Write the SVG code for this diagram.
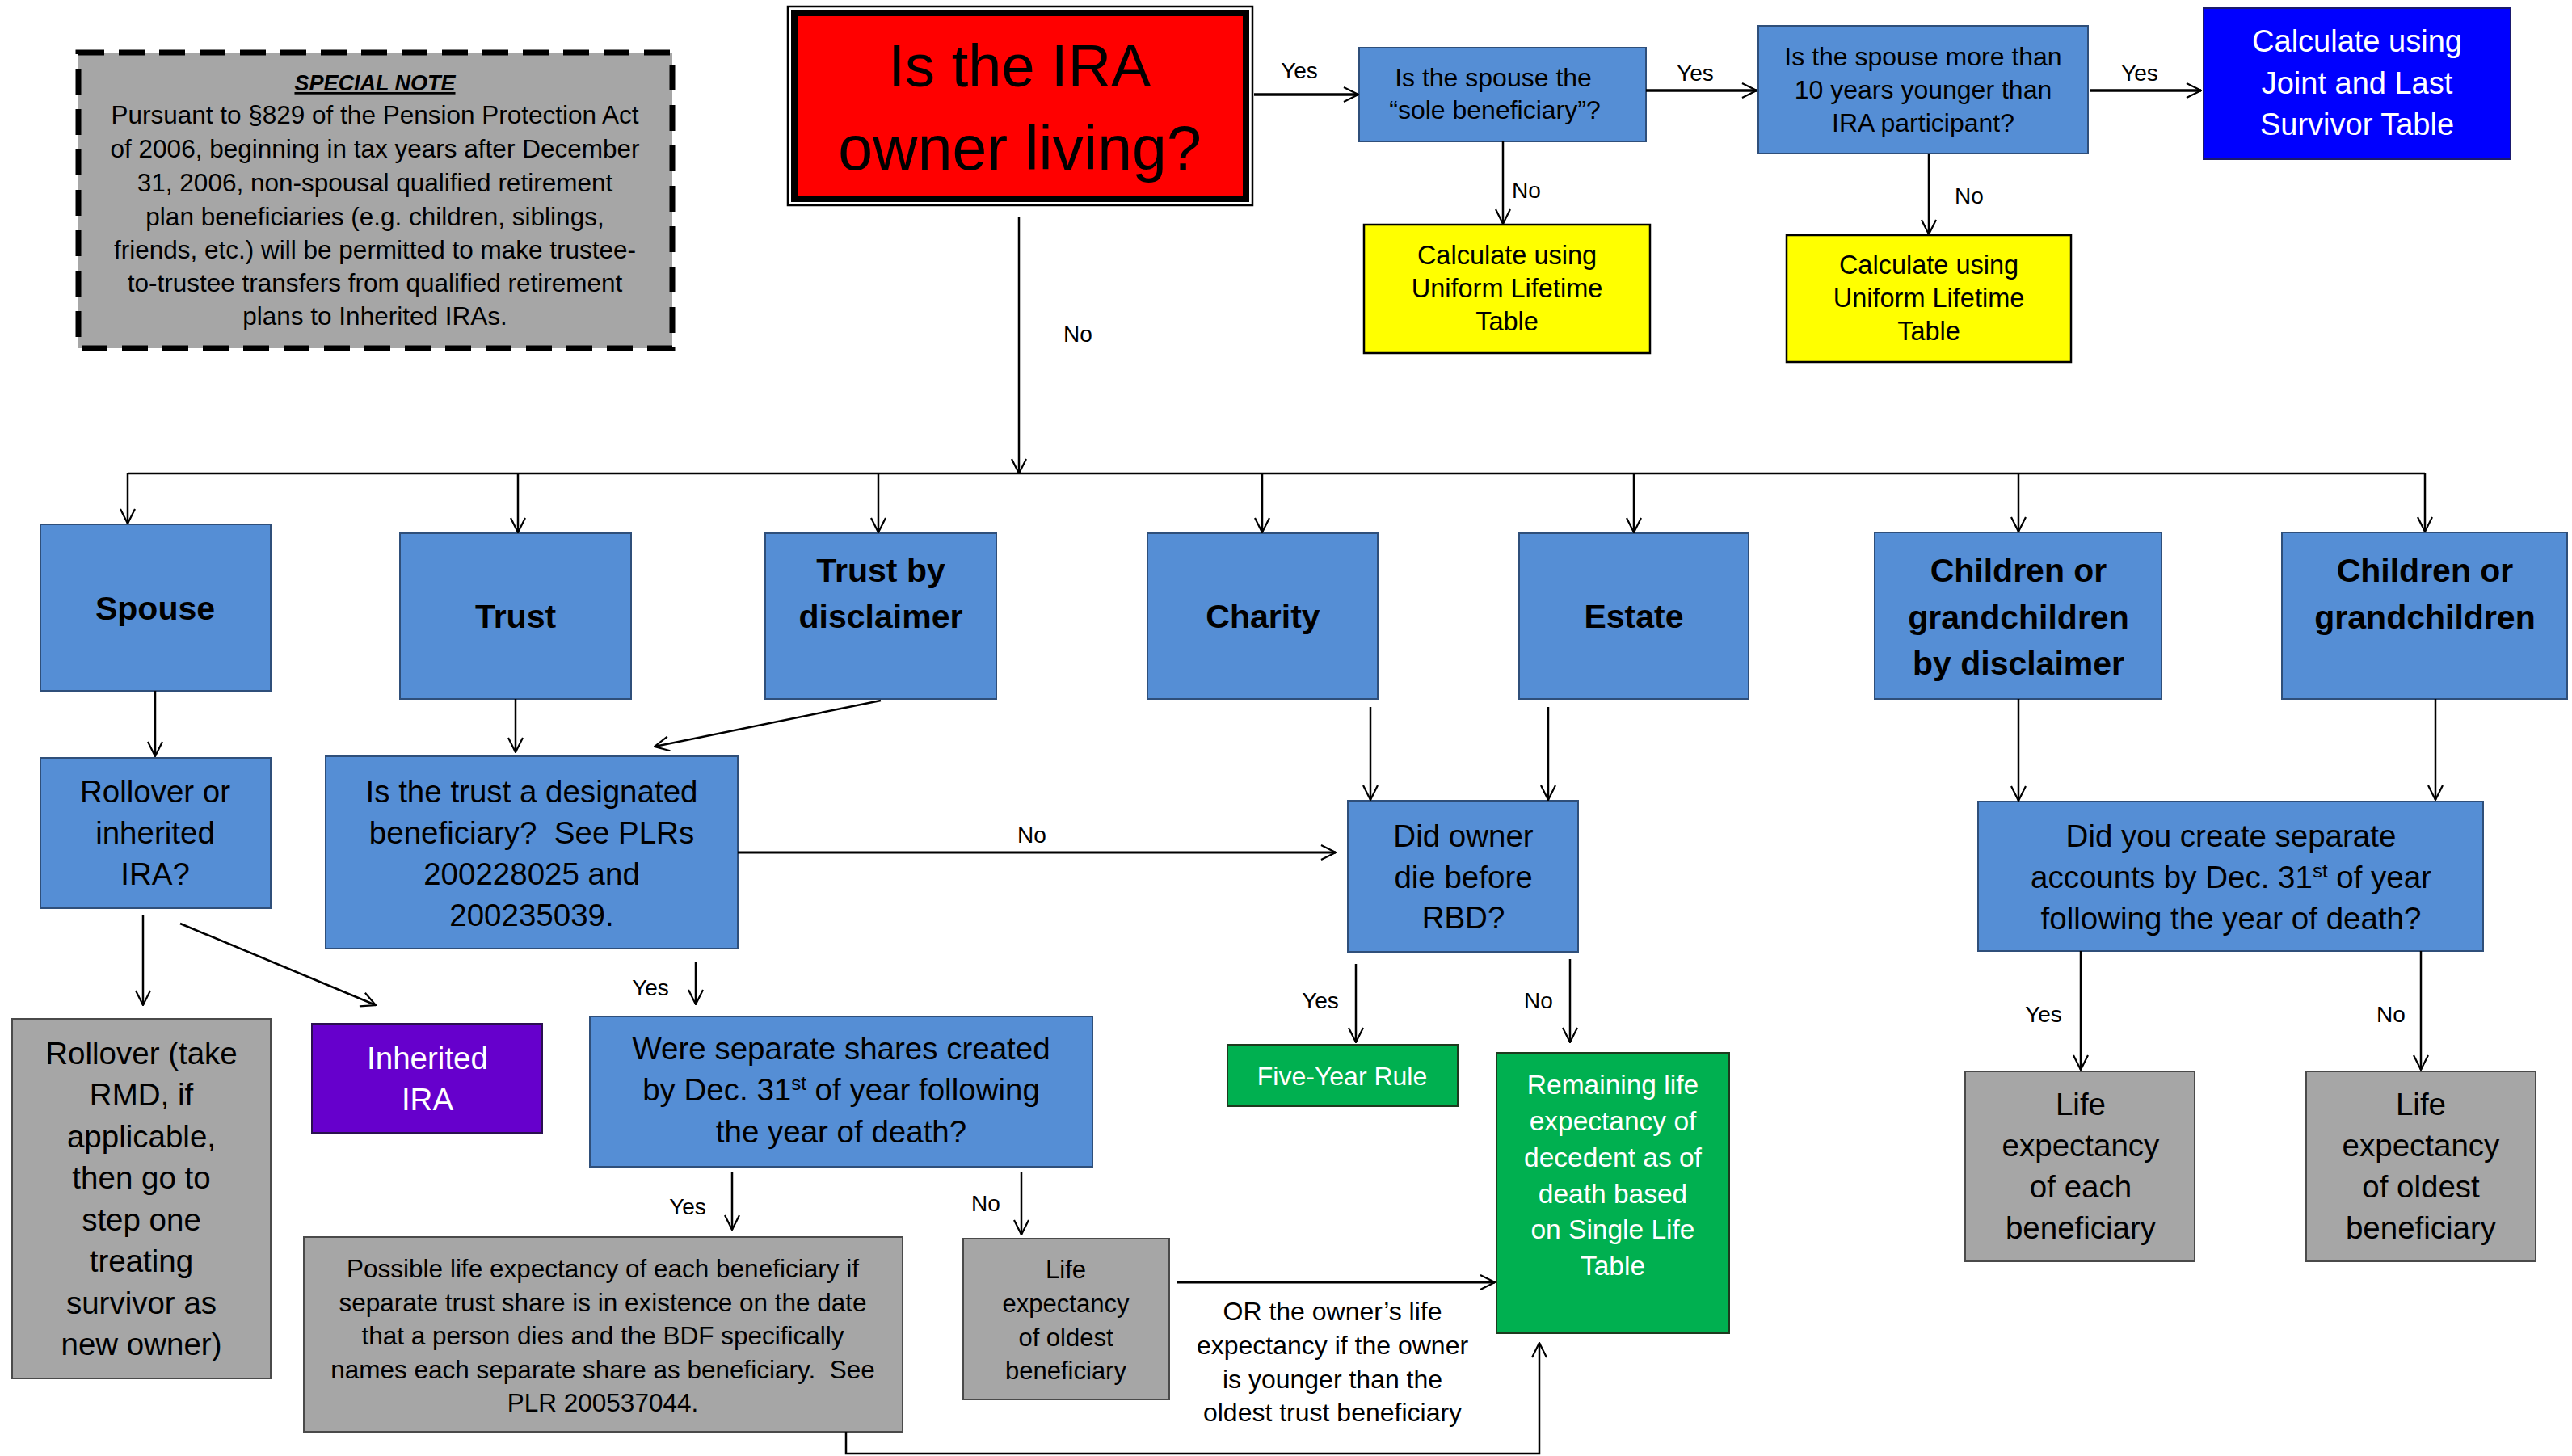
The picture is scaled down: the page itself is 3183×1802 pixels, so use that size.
<svg xmlns="http://www.w3.org/2000/svg" width="3183" height="1802" viewBox="0 0 3183 1802">
<defs>
<marker id="arr" viewBox="0 0 20 20" refX="19" refY="10" markerWidth="20" markerHeight="20" markerUnits="userSpaceOnUse" orient="auto">
<path d="M1,1 L19,10 L1,19" fill="none" stroke="#000" stroke-width="2.2"/>
</marker>
<style>
text{font-family:"Liberation Sans",Arial,sans-serif;text-anchor:middle;fill:#000}
.blue{fill:#558ED5;stroke:#2F4F7A;stroke-width:2}
.gray{fill:#A6A6A6;stroke:#4A4A4A;stroke-width:2}
.yel{fill:#FFFF00;stroke:#000;stroke-width:2.5}
.grn{fill:#00B050;stroke:#1E3A1E;stroke-width:2}
.c{fill:none;stroke:#000;stroke-width:2.5}
.ca{fill:none;stroke:#000;stroke-width:2.5;marker-end:url(#arr)}
.s30{font-size:32px}
.s37{font-size:38.5px}
.b{font-size:41px;font-weight:bold}
.lab{font-size:28px}
.w{fill:#fff}
.pre{white-space:pre}
</style>
</defs>
<rect width="3183" height="1802" fill="#fff"/>

<g id="special-note">
<rect x="97" y="65" width="735" height="366" fill="#A6A6A6" stroke="#000" stroke-width="7" stroke-dasharray="32 18"/>
<text x="464" y="112" font-size="27" font-weight="bold" font-style="italic" text-decoration="underline">SPECIAL NOTE</text>
<text font-size="31.5"><tspan x="464" y="153">Pursuant to §829 of the Pension Protection Act</tspan><tspan x="464" y="195">of 2006, beginning in tax years after December</tspan><tspan x="464" y="237">31, 2006, non-spousal qualified retirement</tspan><tspan x="464" y="279">plan beneficiaries (e.g. children, siblings,</tspan><tspan x="464" y="320">friends, etc.) will be permitted to make trustee-</tspan><tspan x="464" y="361">to-trustee transfers from qualified retirement</tspan><tspan x="464" y="402">plans to Inherited IRAs.</tspan></text>
</g>

<g id="ira-owner-living">
<rect x="975" y="8" width="575" height="246" fill="#fff" stroke="#000" stroke-width="2.5"/>
<rect x="983" y="16" width="559" height="230" fill="#FF0000" stroke="#000" stroke-width="8"/>
<text font-size="77"><tspan x="1262" y="107" font-size="74">Is the IRA</tspan><tspan x="1262" y="210">owner living?</tspan></text>
</g>

<g id="sole-beneficiary">
<rect class="blue" x="1682" y="59" width="355" height="116"/>
<text class="s30"><tspan x="1848" y="107">Is the spouse the</tspan><tspan x="1850" y="147">“sole beneficiary”?</tspan></text>
</g>

<g id="spouse-younger">
<rect class="blue" x="2176" y="32" width="408" height="158"/>
<text class="s30"><tspan x="2380" y="81">Is the spouse more than</tspan><tspan x="2380" y="122">10 years younger than</tspan><tspan x="2380" y="163">IRA participant?</tspan></text>
</g>

<g id="joint-last-survivor">
<rect x="2727" y="10" width="380" height="187" fill="#0000FF" stroke="#1A1A6E" stroke-width="2"/>
<text font-size="38" class="w"><tspan x="2917" y="64">Calculate using</tspan><tspan x="2917" y="116">Joint and Last</tspan><tspan x="2917" y="167">Survivor Table</tspan></text>
</g>

<g id="uniform-1">
<rect class="yel" x="1688" y="278" width="354" height="159"/>
<text font-size="32.5"><tspan x="1865" y="327">Calculate using</tspan><tspan x="1865" y="368">Uniform Lifetime</tspan><tspan x="1865" y="409">Table</tspan></text>
</g>

<g id="uniform-2">
<rect class="yel" x="2211" y="291" width="352" height="157"/>
<text font-size="32.5"><tspan x="2387" y="339">Calculate using</tspan><tspan x="2387" y="380">Uniform Lifetime</tspan><tspan x="2387" y="421">Table</tspan></text>
</g>

<g id="spouse">
<rect class="blue" x="50" y="649" width="285" height="206"/>
<text class="b" x="192" y="767" font-size="40">Spouse</text>
</g>
<g id="trust">
<rect class="blue" x="495" y="660" width="286" height="205"/>
<text class="b" x="638" y="777">Trust</text>
</g>
<g id="trust-by-disclaimer">
<rect class="blue" x="947" y="660" width="286" height="205"/>
<text class="b"><tspan x="1090" y="720">Trust by</tspan><tspan x="1090" y="777">disclaimer</tspan></text>
</g>
<g id="charity">
<rect class="blue" x="1420" y="660" width="285" height="205"/>
<text class="b" x="1563" y="777">Charity</text>
</g>
<g id="estate">
<rect class="blue" x="1880" y="660" width="284" height="205"/>
<text class="b" x="2022" y="777">Estate</text>
</g>
<g id="children-by-disclaimer">
<rect class="blue" x="2320" y="659" width="355" height="206"/>
<text class="b"><tspan x="2498" y="720">Children or</tspan><tspan x="2498" y="778">grandchildren</tspan><tspan x="2498" y="835">by disclaimer</tspan></text>
</g>
<g id="children">
<rect class="blue" x="2824" y="659" width="353" height="206"/>
<text class="b"><tspan x="3001" y="720">Children or</tspan><tspan x="3001" y="778">grandchildren</tspan></text>
</g>

<g id="rollover-or-inherited">
<rect class="blue" x="50" y="938" width="285" height="186"/>
<text class="s37"><tspan x="192" y="993">Rollover or</tspan><tspan x="192" y="1044">inherited</tspan><tspan x="192" y="1095">IRA?</tspan></text>
</g>

<g id="trust-designated">
<rect class="blue" x="403" y="936" width="510" height="238"/>
<text class="s37 pre"><tspan x="658" y="993">Is the trust a designated</tspan><tspan x="658" y="1044">beneficiary?  See PLRs</tspan><tspan x="658" y="1095">200228025 and</tspan><tspan x="658" y="1146">200235039.</tspan></text>
</g>

<g id="die-before-rbd">
<rect class="blue" x="1668" y="991" width="285" height="187"/>
<text class="s37"><tspan x="1811" y="1048">Did owner</tspan><tspan x="1811" y="1099">die before</tspan><tspan x="1811" y="1149">RBD?</tspan></text>
</g>

<g id="separate-accounts">
<rect class="blue" x="2448" y="992" width="625" height="185"/>
<text class="s37"><tspan x="2761" y="1048">Did you create separate</tspan><tspan x="2761" y="1099">accounts by Dec. 31<tspan font-size="24" dy="-13">st</tspan><tspan dy="13"> of year</tspan></tspan><tspan x="2761" y="1150">following the year of death?</tspan></text>
</g>

<g id="rollover-new-owner">
<rect class="gray" x="15" y="1261" width="320" height="445"/>
<text class="s37"><tspan x="175" y="1317">Rollover (take</tspan><tspan x="175" y="1368">RMD, if</tspan><tspan x="175" y="1420">applicable,</tspan><tspan x="175" y="1471">then go to</tspan><tspan x="175" y="1523">step one</tspan><tspan x="175" y="1574">treating</tspan><tspan x="175" y="1626">survivor as</tspan><tspan x="175" y="1677">new owner)</tspan></text>
</g>

<g id="inherited-ira">
<rect x="386" y="1267" width="285" height="135" fill="#6600CC" stroke="#2A1050" stroke-width="2"/>
<text class="s37 w"><tspan x="529" y="1323">Inherited</tspan><tspan x="529" y="1374">IRA</tspan></text>
</g>

<g id="separate-shares">
<rect class="blue" x="730" y="1258" width="622" height="186"/>
<text class="s37"><tspan x="1041" y="1311">Were separate shares created</tspan><tspan x="1041" y="1362">by Dec. 31<tspan font-size="24" dy="-13">st</tspan><tspan dy="13"> of year following</tspan></tspan><tspan x="1041" y="1414">the year of death?</tspan></text>
</g>

<g id="possible-life-expectancy">
<rect class="gray" x="376" y="1531" width="741" height="241"/>
<text font-size="31.5" class="pre"><tspan x="746" y="1581">Possible life expectancy of each beneficiary if</tspan><tspan x="746" y="1623">separate trust share is in existence on the date</tspan><tspan x="746" y="1664">that a person dies and the BDF specifically</tspan><tspan x="746" y="1706">names each separate share as beneficiary.  See</tspan><tspan x="746" y="1747">PLR 200537044.</tspan></text>
</g>

<g id="trust-oldest-beneficiary">
<rect class="gray" x="1192" y="1533" width="255" height="199"/>
<text font-size="31"><tspan x="1319" y="1582">Life</tspan><tspan x="1319" y="1624">expectancy</tspan><tspan x="1319" y="1666">of oldest</tspan><tspan x="1319" y="1707">beneficiary</tspan></text>
</g>

<g id="five-year-rule">
<rect class="grn" x="1519" y="1293" width="285" height="76"/>
<text class="w" font-size="32" x="1661" y="1343">Five-Year Rule</text>
</g>

<g id="remaining-life">
<rect class="grn" x="1852" y="1303" width="288" height="347"/>
<text class="w" font-size="33.5"><tspan x="1996" y="1354">Remaining life</tspan><tspan x="1996" y="1399">expectancy of</tspan><tspan x="1996" y="1444">decedent as of</tspan><tspan x="1996" y="1489">death based</tspan><tspan x="1996" y="1533">on Single Life</tspan><tspan x="1996" y="1578">Table</tspan></text>
</g>

<g id="each-beneficiary">
<rect class="gray" x="2432" y="1326" width="284" height="235"/>
<text class="s37"><tspan x="2575" y="1380">Life</tspan><tspan x="2575" y="1431">expectancy</tspan><tspan x="2575" y="1482">of each</tspan><tspan x="2575" y="1533">beneficiary</tspan></text>
</g>

<g id="oldest-beneficiary">
<rect class="gray" x="2854" y="1326" width="284" height="235"/>
<text class="s37"><tspan x="2996" y="1380">Life</tspan><tspan x="2996" y="1431">expectancy</tspan><tspan x="2996" y="1482">of oldest</tspan><tspan x="2996" y="1533">beneficiary</tspan></text>
</g>

<g id="connectors">
<line class="ca" x1="1552" y1="117" x2="1681" y2="117" style="stroke-width:3.5"/>
<line class="ca" x1="2037" y1="112" x2="2174" y2="112" style="stroke-width:3.5"/>
<line class="ca" x1="2586" y1="112" x2="2724" y2="112" style="stroke-width:3.5"/>
<line class="ca" x1="1860" y1="175" x2="1860" y2="277"/>
<line class="ca" x1="2387" y1="190" x2="2387" y2="290"/>
<line class="ca" x1="1261" y1="268" x2="1261" y2="586"/>
<line class="c" x1="158" y1="586" x2="3001" y2="586"/>
<line class="ca" x1="158" y1="586" x2="158" y2="648"/>
<line class="ca" x1="641" y1="586" x2="641" y2="659"/>
<line class="ca" x1="1087" y1="586" x2="1087" y2="659"/>
<line class="ca" x1="1562" y1="586" x2="1562" y2="659"/>
<line class="ca" x1="2022" y1="586" x2="2022" y2="659"/>
<line class="ca" x1="2498" y1="586" x2="2498" y2="658"/>
<line class="ca" x1="3001" y1="586" x2="3001" y2="658"/>
<line class="ca" x1="192" y1="855" x2="192" y2="936"/>
<line class="ca" x1="638" y1="865" x2="638" y2="931"/>
<line class="ca" x1="1090" y1="867" x2="810" y2="924"/>
<line class="ca" x1="1696" y1="875" x2="1696" y2="990"/>
<line class="ca" x1="1916" y1="875" x2="1916" y2="990"/>
<line class="ca" x1="2498" y1="865" x2="2498" y2="991"/>
<line class="ca" x1="3014" y1="865" x2="3014" y2="990"/>
<line class="ca" x1="913" y1="1055" x2="1653" y2="1055" style="stroke-width:3"/>
<line class="ca" x1="177" y1="1133" x2="177" y2="1244"/>
<line class="ca" x1="223" y1="1143" x2="465" y2="1244"/>
<line class="ca" x1="861" y1="1190" x2="861" y2="1243"/>
<line class="ca" x1="906" y1="1451" x2="906" y2="1522"/>
<line class="ca" x1="1264" y1="1451" x2="1264" y2="1528"/>
<line class="ca" x1="1678" y1="1193" x2="1678" y2="1290"/>
<line class="ca" x1="1943" y1="1187" x2="1943" y2="1290"/>
<line class="ca" x1="1456" y1="1587" x2="1850" y2="1587" style="stroke-width:3"/>
<polyline class="ca" points="1047,1772 1047,1799 1905,1799 1905,1662"/>
<line class="ca" x1="2575" y1="1177" x2="2575" y2="1324"/>
<line class="ca" x1="2996" y1="1177" x2="2996" y2="1324"/>
</g>

<g id="labels" class="lab">
<text class="lab" x="1608" y="97">Yes</text>
<text class="lab" x="2098" y="100">Yes</text>
<text class="lab" x="2648" y="100">Yes</text>
<text class="lab" x="1889" y="245">No</text>
<text class="lab" x="2437" y="252">No</text>
<text class="lab" x="1334" y="423">No</text>
<text class="lab" x="1277" y="1043">No</text>
<text class="lab" x="805" y="1232">Yes</text>
<text class="lab" x="851" y="1503">Yes</text>
<text class="lab" x="1220" y="1499">No</text>
<text class="lab" x="1634" y="1248">Yes</text>
<text class="lab" x="1904" y="1248">No</text>
<text class="lab" x="2529" y="1265">Yes</text>
<text class="lab" x="2959" y="1265">No</text>
<text font-size="32"><tspan x="1649" y="1634">OR the owner’s life</tspan><tspan x="1649" y="1676">expectancy if the owner</tspan><tspan x="1649" y="1718">is younger than the</tspan><tspan x="1649" y="1759">oldest trust beneficiary</tspan></text>
</g>
</svg>
